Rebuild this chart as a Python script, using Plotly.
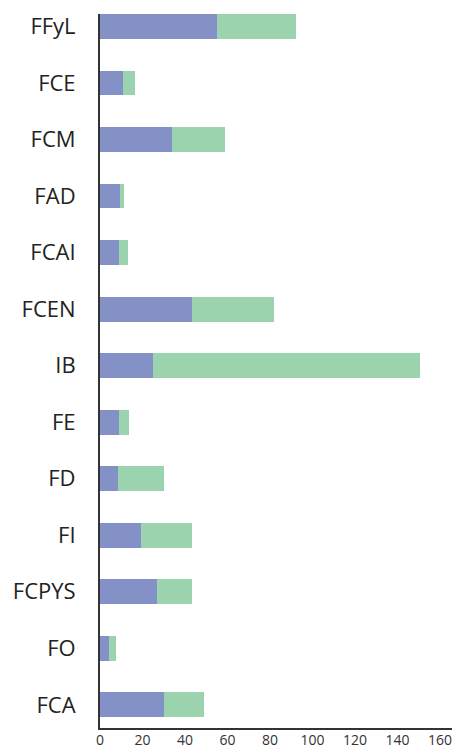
import plotly.graph_objects as go

categories = ["FFyL", "FCE", "FCM", "FAD", "FCAI", "FCEN", "IB", "FE", "FD", "FI", "FCPYS", "FO", "FCA"]
series_a = [55, 11, 34, 9.5, 9, 43.5, 25, 9, 8.5, 19.5, 27, 4, 30]
series_b = [37, 5.5, 25, 2, 4, 38.5, 125.5, 4.5, 21.5, 24, 16.5, 3.5, 19]
x_ticks = [0, 20, 40, 60, 80, 100, 120, 140, 160]

color_a = "#8491c6"
color_b = "#9bd3ae"

fig = go.Figure()
fig.add_trace(go.Bar(y=categories, x=series_a, orientation="h", marker=dict(color=color_a, line=dict(width=0)), width=0.44, name="A"))
fig.add_trace(go.Bar(y=categories, x=series_b, orientation="h", marker=dict(color=color_b, line=dict(width=0)), width=0.44, name="B"))

# page body has an 8px margin, so the figure is sized/offset to compensate
fig.update_layout(
    barmode="stack",
    width=452, height=741,
    margin=dict(l=92, r=0, t=6, b=21),
    paper_bgcolor="white", plot_bgcolor="white",
    showlegend=False,
    font=dict(family="Open Sans", color="#222222"),
)
fig.update_xaxes(
    range=[0, 169.4], tickvals=x_ticks, ticktext=[str(v) for v in x_ticks],
    showgrid=False, zeroline=False, showline=True, linecolor="#333333", linewidth=2,
    ticks="", automargin=False, ticklabelstandoff=-2,
    tickfont=dict(size=14, color="#333333"),
)
fig.update_yaxes(
    categoryorder="array", categoryarray=categories,
    range=[12.41, -0.22], automargin=False,
    showgrid=False, zeroline=False, showline=True, linecolor="#333333", linewidth=2,
    ticks="outside", ticklen=18, tickcolor="rgba(0,0,0,0)",
    tickfont=dict(size=22, color="#222222"),
)

fig.write_html("out.html")
